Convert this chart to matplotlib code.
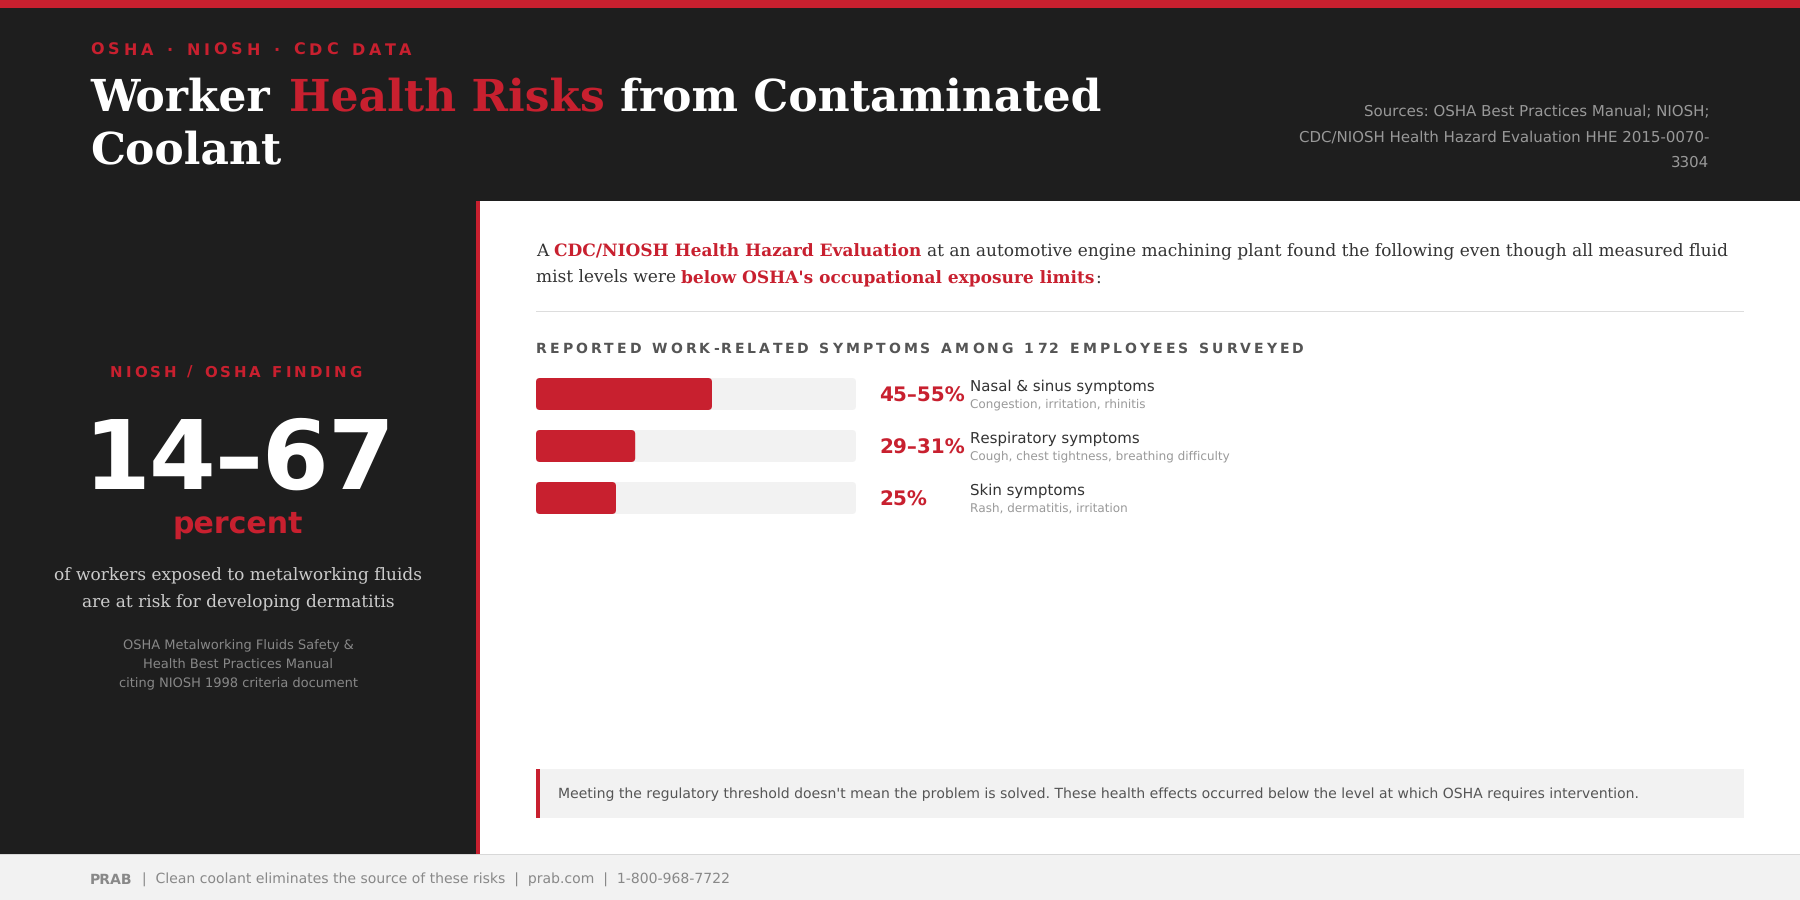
import matplotlib

matplotlib.use("Agg")
import matplotlib.pyplot as plt
from matplotlib.patches import FancyBboxPatch, Rectangle
from matplotlib.text import Text

plt.rcParams["text.hinting"] = "no_hinting"
plt.rcParams["text.hinting_factor"] = 1

RED = "#c8202f"
DARK = "#1e1e1e"
LIGHT = "#f2f2f2"
SANS = "DejaVu Sans"
SERIF = "DejaVu Serif"

# chart data
symptoms = ["Nasal & sinus symptoms", "Respiratory symptoms", "Skin symptoms"]
details = [
    "Congestion, irritation, rhinitis",
    "Cough, chest tightness, breathing difficulty",
    "Rash, dermatitis, irritation",
]
range_labels = ["45–55%", "29–31%", "25%"]
bar_values = [55, 31, 25]
bar_max = 100


class SpacedText(Text):
    "one text object that draws itself with css style letter spacing"

    def __init__(self, x, y, text, spacing=0, **kwargs):
        super().__init__(x, y, text, **kwargs)
        self.spacing = spacing

    def draw(self, renderer):
        s = self.get_text()
        fp = self.get_fontproperties()
        lefts = []
        for i in range(len(s) + 1):
            w = renderer.get_text_width_height_descent(s[:i], fp, False)[0] if i else 0
            lefts.append(w + i * self.spacing)
        x0, y0 = self.get_transform().transform(self.get_position())
        if self.get_ha() == "center":
            x0 -= lefts[-1] / 2
        for ch, left in zip(s, lefts):
            t = Text(x0 + left, y0, ch, color=self.get_color(), fontproperties=fp, va=self.get_va(), ha="left")
            t.set_figure(self.get_figure())
            t.draw(renderer)


fig = plt.figure(figsize=(18, 9), dpi=100, facecolor="white")
# layout axes, one unit is one output pixel
ax = fig.add_axes([0, 0, 1, 1])
ax.set_xlim(0, 1800)
ax.set_ylim(900, 0)
ax.axis("off")


def px(size):
    return size * 0.72


def box(x, y, w, h, color):
    ax.add_patch(Rectangle((x, y), w, h, facecolor=color, edgecolor="none"))


def label(x, y, s, size, color, family=SANS, weight="normal", ha="left", va="baseline"):
    return ax.text(x, y, s, fontsize=px(size), color=color, family=family, weight=weight, ha=ha, va=va)


def spaced(x, y, s, size, color, spacing, ha="left"):
    t = SpacedText(x, y, s, spacing=spacing, fontsize=px(size), color=color, family=SANS, weight="bold",
                   ha=ha, va="baseline", transform=ax.transData)
    ax.add_artist(t)


def runs(x, y, parts, size, family=SERIF):
    # consecutive pieces of one line in different colours
    renderer = fig.canvas.get_renderer()
    for s, color, weight in parts:
        t = label(x, y, s, size, color, family=family, weight=weight)
        x += renderer.get_text_width_height_descent(s, t.get_fontproperties(), False)[0]


# backgrounds
box(0, 0, 1800, 8, RED)
box(0, 8, 1800, 193, DARK)
box(0, 201, 476, 653, DARK)
box(476, 201, 4, 653, RED)
box(0, 854, 1800, 46, LIGHT)
box(0, 854, 1800, 1, "#d8d8d8")

# header
spaced(90, 55, "OSHA · NIOSH · CDC DATA", 16, RED, 4)
label(90, 111, "Worker", 44, "white", family=SERIF, weight="bold")
# browser does not kern the W, so the rest of the line sits a bit further right
runs(289, 111, [("Health Risks ", RED, "bold"), ("from Contaminated", "white", "bold")], 44)
label(90, 164, "Coolant", 44, "white", family=SERIF, weight="bold")
for y, s in zip([116.5, 142, 167], ["Sources: OSHA Best Practices Manual; NIOSH;", "CDC/NIOSH Health Hazard Evaluation HHE 2015-0070-", "3304"]):
    label(1709.5, y, s, 15, "#999999", ha="right")

# left panel
spaced(237, 377, "NIOSH / OSHA FINDING", 15, RED, 3, ha="center")
spaced(238, 489, "14–67", 96, "white", -1, ha="center")
label(238, 533, "percent", 30, RED, weight="bold", ha="center")
label(238, 580, "of workers exposed to metalworking fluids", 17, "#cccccc", family=SERIF, ha="center")
label(238, 607, "are at risk for developing dermatitis", 17, "#cccccc", family=SERIF, ha="center")
for y, s in zip([649, 668.5, 687], ["OSHA Metalworking Fluids Safety &", "Health Best Practices Manual", "citing NIOSH 1998 criteria document"]):
    label(238, y, s, 13, "#888888", ha="center")

# intro text
runs(536, 256, [("A ", "#333333", "normal"), ("CDC/NIOSH Health Hazard Evaluation ", RED, "bold"),
                ("at an automotive engine machining plant found the following even though all measured fluid", "#333333", "normal")], 17)
runs(536, 283, [("mist levels were ", "#333333", "normal"), ("below OSHA's occupational exposure limits", RED, "bold"), (":", "#333333", "normal")], 17)
box(536, 311, 1208, 1, "#dddddd")

spaced(536, 353, "REPORTED WORK-RELATED SYMPTOMS AMONG 172 EMPLOYEES SURVEYED", 14, "#555555", 3.0)

# bars, on their own axes: x is percent, y is row number
row_h = 32
row_step = 52
bar_left, bar_w, bar_top = 536, 320, 378
n = len(bar_values)
bar_ax = fig.add_axes([bar_left / 1800, 1 - (bar_top + n * row_step - (row_step - row_h)) / 900, bar_w / 1800,
                       (n * row_step - (row_step - row_h)) / 900])
bar_ax.set_xlim(0, bar_max)
bar_ax.set_ylim(n - 1 + row_h / row_step, 0)
bar_ax.axis("off")
aspect = (1 / row_step) / (bar_max / bar_w)
rad = 4 * bar_max / bar_w
for i, value in enumerate(bar_values):
    for w, color in [(bar_max, LIGHT), (value, RED)]:
        bar_ax.add_patch(FancyBboxPatch((0, i), w, row_h / row_step, boxstyle=f"round,pad=0,rounding_size={rad}",
                                        mutation_aspect=aspect, facecolor=color, edgecolor="none"))
    y = bar_top + i * row_step
    label(879.5, y + row_h / 2, range_labels[i], 20, RED, weight="bold", va="center_baseline")
    label(970, y + 13, symptoms[i], 15, "#333333")
    label(970, y + 30, details[i], 12, "#999999")

# note box
box(536, 769, 1208, 49, LIGHT)
box(536, 769, 4, 49, RED)
label(558, 792.5, "Meeting the regulatory threshold doesn't mean the problem is solved. These health effects occurred below the level at which OSHA requires intervention.",
      14, "#555555", va="center_baseline")

# footer
runs(90, 884, [("PRAB", "#888888", "bold"), ("  |  Clean coolant eliminates the source of these risks  |  prab.com  |  1-800-968-7722", "#888888", "normal")], 14, family=SANS)

fig.savefig("out.png", dpi=100)
